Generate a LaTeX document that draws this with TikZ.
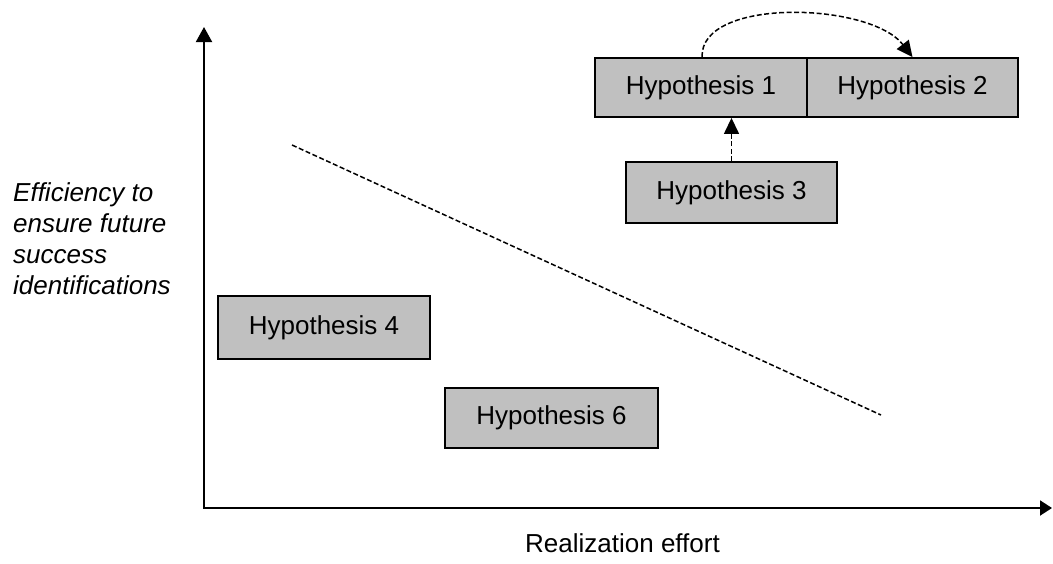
\documentclass[tikz,border=0pt]{standalone}
\usepackage{fontspec}
\setmainfont{Liberation Sans}
\usetikzlibrary{arrows.meta,calc}
\begin{document}
\begin{tikzpicture}[x=1pt,y=-1pt,
  hypbox/.style={draw=black,line width=1.9pt,fill={rgb,255:red,192;green,192;blue,192},
    minimum width=212pt,minimum height=60pt,inner sep=0pt,
    font=\fontsize{26}{30}\selectfont},
  axisline/.style={line width=1.9pt,{Triangle[length=15pt,width=16pt]}-{Triangle[length=12pt,width=15pt]}},
  dashlink/.style={line width=1.5pt,dash pattern=on 5pt off 2.5pt,-{Triangle[length=16pt,width=15pt]}},
  lbl/.style={inner sep=0pt,font=\fontsize{26}{31}\selectfont}]
  \useasboundingbox (0,0) rectangle (1053,563);

  % axes
  \coordinate (origin) at (204,508);
  \coordinate (ytip) at (204,27);
  \coordinate (xtip) at (1052,508);
  \draw[axisline] (ytip) -- (origin) -- (xtip);

  % axis captions
  \node[lbl,anchor=north west,align=left,font=\fontsize{26}{31}\selectfont\itshape] (ylab) at (13,182)
    {Efficiency to\\ensure future\\success\\identifications};
  \node[lbl,anchor=base west] (xlab) at (525,552) {Realization effort};

  % trade-off line
  \coordinate (d1) at (292,145);
  \coordinate (d2) at (881,415);
  \draw[line width=1.5pt,dash pattern=on 5pt off 2.5pt] (d1) -- (d2);

  % hypotheses
  \node[hypbox,minimum height=59pt] (h1) at (701,87.5) {Hypothesis 1};
  \node[hypbox,minimum width=211pt,minimum height=59pt] (h2) at (912.5,87.5) {Hypothesis 2};
  \node[hypbox,minimum width=211pt,minimum height=61pt] (h3) at (731.5,192.5) {Hypothesis 3};
  \node[hypbox,minimum height=63pt] (h4) at (324,327.5) {Hypothesis 4};
  \node[hypbox,minimum width=213pt] (h6) at (551.5,418) {Hypothesis 6};

  % links
  \draw[dashlink] (h3.north) -- (h3.north |- h1.south);
  \coordinate (c1) at ($(h1.north west)+(108,0)$);
  \draw[dashlink] (c1) .. controls (700,-3) and (870,2) .. (h2.north);
\end{tikzpicture}
\end{document}
